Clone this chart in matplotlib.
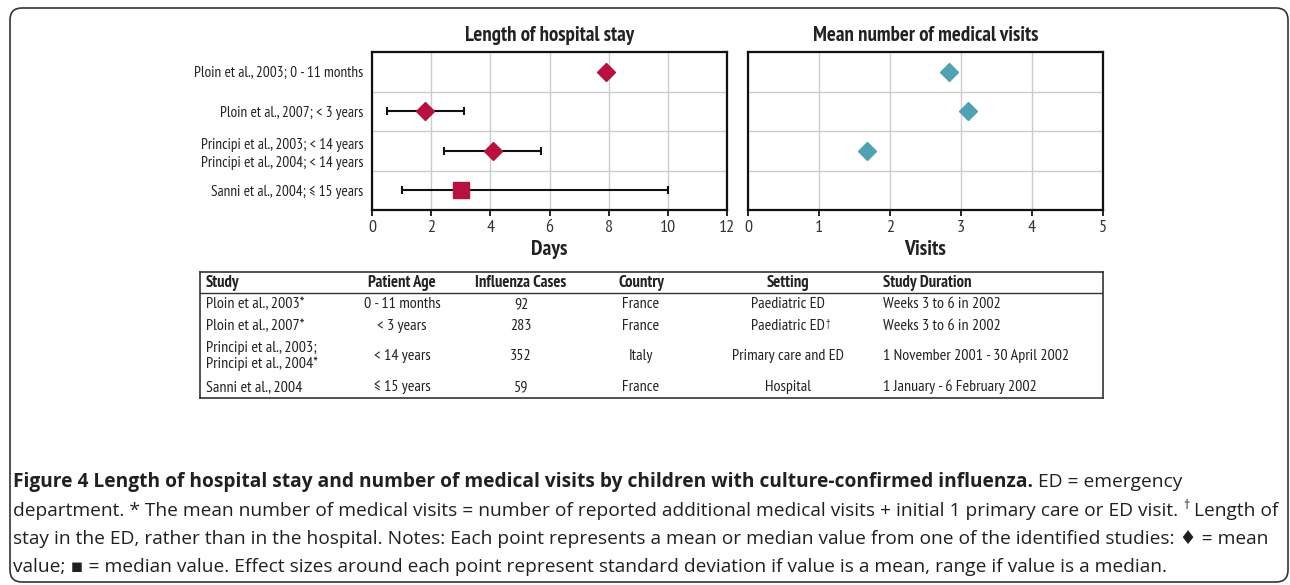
import matplotlib.pyplot as plt
from matplotlib import font_manager as fm
from matplotlib.patches import FancyBboxPatch
import numpy as np

# forest plot data
studies = ["Ploin et al., 2003; 0 - 11 months",
           "Ploin et al., 2007; < 3 years",
           "Principi et al., 2003; < 14 years\nPrincipi et al., 2004; < 14 years",
           "Sanni et al., 2004; \u2264 15 years"]
stay_value = [7.9, 1.8, 4.1, 3.0]
stay_low = [np.nan, 0.5, 2.45, 1.0]
stay_high = [np.nan, 3.1, 5.7, 10.0]
stay_marker = ["D", "D", "D", "s"]
visits_value = [2.83, 3.1, 1.68, np.nan]

# table data
tbl_header = ["Study", "Patient Age", "Influenza Cases", "Country", "Setting", "Study Duration"]
tbl_study = ["Ploin et al., 2003*", "Ploin et al., 2007*",
             "Principi et al., 2003;\nPrincipi et al., 2004*", "Sanni et al., 2004"]
tbl_age = ["0 - 11 months", "< 3 years", "< 14 years", "\u2264 15 years"]
tbl_cases = [92, 283, 352, 59]
tbl_country = ["France", "France", "Italy", "France"]
tbl_setting = ["Paediatric ED", "Paediatric ED\u2020", "Primary care and ED", "Hospital"]
tbl_duration = ["Weeks 3 to 6 in 2002", "Weeks 3 to 6 in 2002",
                "1 November 2001 - 30 April 2002", "1 January - 6 February 2002"]

RED = "#b8113f"
TEAL = "#50a1b4"

avail = {f.name for f in fm.fontManager.ttflist}


def pick(cands):
    for c in cands:
        if c in avail:
            return c
    return "DejaVu Sans"


narrow = [pick(["Liberation Sans Narrow", "Arial Narrow", "PT Sans Narrow", "Roboto Condensed",
                "Archivo Narrow", "Pragati Narrow", "IBM Plex Sans Condensed"]), "DejaVu Sans"]
capfont = ["Open Sans", "DejaVu Sans"]

plt.rcParams["font.family"] = narrow

W, H = 1290, 585
fig = plt.figure(figsize=(W / 100, H / 100), dpi=100)
renderer = fig.canvas.get_renderer()


def px_axes(x0, y0, x1, y1):
    # axes from pixel box (top-left origin)
    return fig.add_axes([x0 / W, 1 - y1 / H, (x1 - x0) / W, (y1 - y0) / H])


ax1 = px_axes(372, 52, 727, 210)
ax2 = px_axes(748, 52, 1103, 210)
rows = np.arange(len(studies))

for ax in (ax1, ax2):
    ax.set_ylim(len(studies) - 0.5, -0.5)
    ax.set_yticks(rows)
    ax.set_yticks(rows[:-1] + 0.5, minor=True)
    ax.grid(True, axis="x", color="#cccccc", lw=1)
    ax.grid(True, axis="y", which="minor", color="#cccccc", lw=1)
    ax.set_axisbelow(True)
    for s in ax.spines.values():
        s.set_linewidth(1.6)
        s.set_color("#111111")
    ax.tick_params(axis="y", which="both", length=0, pad=6)
    ax.tick_params(axis="x", length=4, width=1.2, labelsize=13, labelcolor="#333333", pad=3)

# length of hospital stay
for i in rows:
    if not np.isnan(stay_low[i]):
        ax1.errorbar(stay_value[i], i,
                     xerr=[[stay_value[i] - stay_low[i]], [stay_high[i] - stay_value[i]]],
                     fmt="none", ecolor="#111111", elinewidth=1.5, capsize=3, capthick=1.5, zorder=3)
    ms = 9 if stay_marker[i] == "D" else 11
    ax1.plot(stay_value[i], i, marker=stay_marker[i], color=RED, ms=ms, ls="none", zorder=4)
ax1.set_xlim(0, 12)
ax1.set_xticks(np.arange(0, 13, 2))
ax1.set_yticklabels(studies, fontsize=11, color="#222222", linespacing=1.3)
ax1.set_title("Length of hospital stay", fontsize=15, fontweight="bold", color="#222222", pad=8)
ax1.set_xlabel("Days", fontsize=15.5, fontweight="bold", color="#222222", labelpad=3)

# mean number of medical visits
ax2.plot(visits_value, rows, marker="D", color=TEAL, ms=9, ls="none", zorder=4)
ax2.set_xlim(0, 5)
ax2.set_xticks(np.arange(0, 6, 1))
ax2.set_yticklabels([])
ax2.set_title("Mean number of medical visits", fontsize=15, fontweight="bold", color="#222222", pad=8)
ax2.set_xlabel("Visits", fontsize=15.5, fontweight="bold", color="#222222", labelpad=3)

# study table (pixel coordinates inside the box)
axt = px_axes(200, 272, 1103, 398)
axt.set_xlim(200, 1103)
axt.set_ylim(398, 272)
axt.set_xticks([])
axt.set_yticks([])
for s in axt.spines.values():
    s.set_linewidth(1.2)
    s.set_color("#333333")
axt.axhline(293, color="#333333", lw=1)

col_x = [206, 402, 521, 641, 788, 883]
col_ha = ["left", "center", "center", "center", "center", "left"]
row_y = [304, 326, 356, 387]
for x, ha, h in zip(col_x, col_ha, tbl_header):
    axt.text(x, 283, h, ha=ha, va="center", fontsize=12, fontweight="bold", color="#222222")
columns = [tbl_study, tbl_age, [str(c) for c in tbl_cases], tbl_country, tbl_setting, tbl_duration]
for x, ha, col in zip(col_x, col_ha, columns):
    for y, val in zip(row_y, col):
        if val.endswith("\u2020"):
            # footnote mark as a small superscript after the centred text
            t = axt.text(x, y, val[:-1], ha=ha, va="center", fontsize=11.5, color="#222222")
            x1 = t.get_window_extent(renderer).x1
            axt.annotate("\u2020", xy=(x1 + 1, y + 3), xycoords=("figure pixels", axt.transData),
                         va="bottom", ha="left", fontsize=8, color="#222222")
        else:
            axt.text(x, y, val, ha=ha, va="center", fontsize=11.5, color="#222222", linespacing=1.2)

# caption, drawn piece by piece so bold and normal runs sit on one line
cap_lines = [
    [("Figure 4 Length of hospital stay and number of medical visits by children with "
      "culture-confirmed influenza.", "bold", 1.0, 0), (" ED = emergency", "normal", 1.0, 0)],
    [("department. * The mean number of medical visits = number of reported additional medical "
      "visits + initial 1 primary care or ED visit. ", "normal", 1.0, 0),
     ("\u2020", "normal", 0.65, 7), (" Length of", "normal", 1.0, 0)],
    [("stay in the ED, rather than in the hospital. Notes: Each point represents a mean or median "
      "value from one of the identified studies: \u2666 = mean", "normal", 1.0, 0)],
    [("value; \u25aa = median value. Effect sizes around each point represent standard deviation "
      "if value is a mean, range if value is a median.", "normal", 1.0, 0)],
]
cap_base = [487, 516, 544, 572]

# size the caption font so that the first line ends where it does in the figure
probe = 0
for txt, wt, sc, dy in cap_lines[0]:
    t = fig.text(0, 0, txt, fontsize=10 * sc, fontweight=wt, family=capfont)
    probe += t.get_window_extent(renderer).width
    t.remove()
cap_size = 10 * (1178 - 13) / probe

for line, yb in zip(cap_lines, cap_base):
    x = 13
    for txt, wt, sc, dy in line:
        t = fig.text(x / W, 1 - (yb - dy) / H, txt, fontsize=cap_size * sc, fontweight=wt,
                     family=capfont, color="#231f20", va="baseline")
        x = t.get_window_extent(renderer).x1

# rounded outer frame
frame = FancyBboxPatch((10, 3), 1278, 574, boxstyle="round,pad=0,rounding_size=12",
                       transform=None, fill=False, ec="#333333", lw=1.2)
fig.add_artist(frame)

fig.savefig("out.png", dpi=100)
